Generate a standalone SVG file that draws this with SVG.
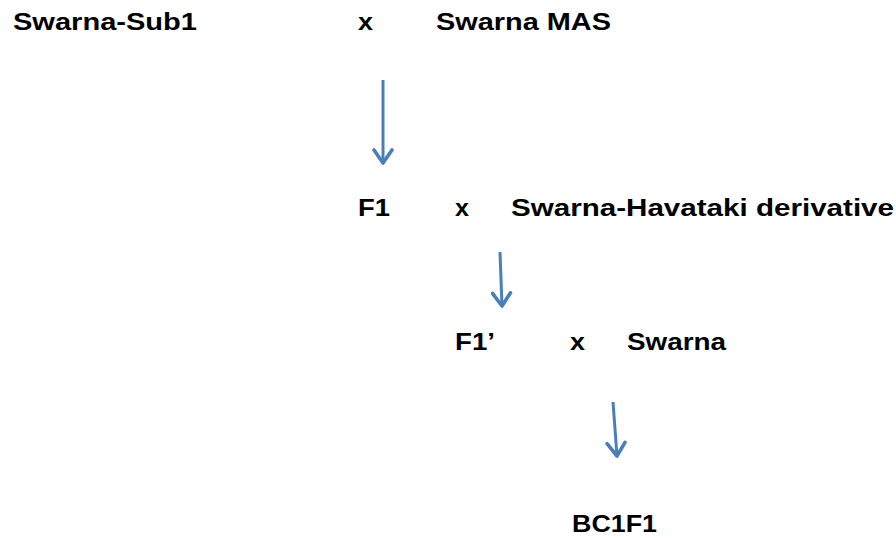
<svg xmlns="http://www.w3.org/2000/svg" width="896" height="538" viewBox="0 0 896 538">
<defs>
<style>
.t{font-family:"Liberation Sans",Arial,sans-serif;font-weight:bold;font-size:23.5px;fill:#000}
.c{stroke:#4a7ebb;stroke-width:3;fill:none;stroke-linecap:butt}
</style>
<marker id="ah" viewBox="0 0 20 22" refX="17" refY="11" markerWidth="20" markerHeight="22" markerUnits="userSpaceOnUse" orient="auto">
<path d="M4,2 L17,11 L4,20" fill="none" stroke="#4a7ebb" stroke-width="3.6" stroke-linecap="round" stroke-linejoin="round"/>
</marker>
</defs>
<rect width="896" height="538" fill="#fff"/>
<g id="parent1"><text class="t" x="13" y="30" textLength="184" lengthAdjust="spacingAndGlyphs">Swarna-Sub1</text></g>
<g id="cross1"><text class="t" x="358" y="30" textLength="15" lengthAdjust="spacingAndGlyphs">x</text></g>
<g id="parent2"><text class="t" x="436" y="30" textLength="175" lengthAdjust="spacingAndGlyphs">Swarna MAS</text></g>
<g id="f1"><text class="t" x="358" y="216" textLength="32" lengthAdjust="spacingAndGlyphs">F1</text></g>
<g id="cross2"><text class="t" x="455" y="216" textLength="14" lengthAdjust="spacingAndGlyphs">x</text></g>
<g id="parent3"><text class="t" x="511" y="216" textLength="383" lengthAdjust="spacingAndGlyphs">Swarna-Havataki derivative</text></g>
<g id="f1p"><text class="t" x="455" y="350" textLength="40" lengthAdjust="spacingAndGlyphs">F1’</text></g>
<g id="cross3"><text class="t" x="570" y="350" textLength="15" lengthAdjust="spacingAndGlyphs">x</text></g>
<g id="parent4"><text class="t" x="627" y="350" textLength="99" lengthAdjust="spacingAndGlyphs">Swarna</text></g>
<g id="bc1f1"><text class="t" x="572" y="532" textLength="85" lengthAdjust="spacingAndGlyphs">BC1F1</text></g>
<g id="connectors">
<line class="c" x1="383" y1="80" x2="383" y2="163" marker-end="url(#ah)"/>
<line class="c" x1="500" y1="252" x2="502" y2="306" marker-end="url(#ah)"/>
<line class="c" x1="613" y1="402" x2="617" y2="456" marker-end="url(#ah)"/>
</g>
</svg>
